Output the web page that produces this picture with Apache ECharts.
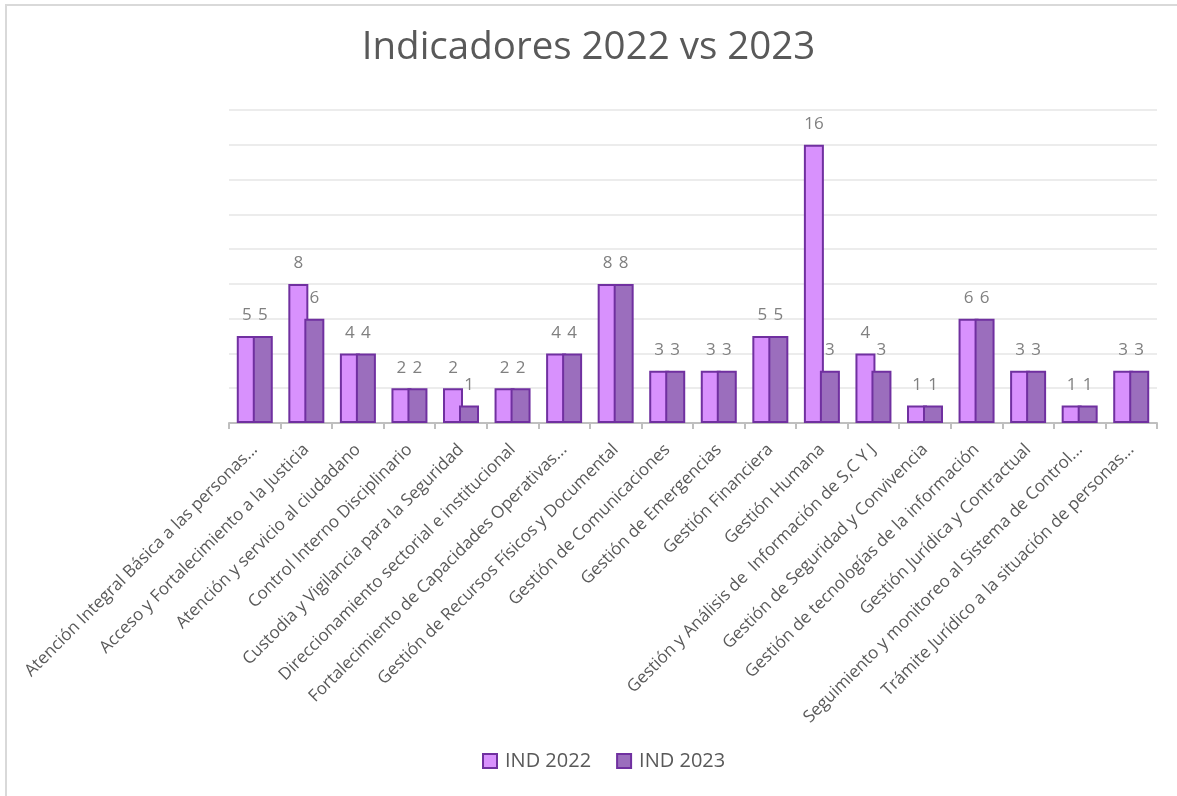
<!DOCTYPE html>
<html>
<head>
<meta charset="utf-8">
<script src="https://cdn.jsdelivr.net/npm/echarts@6/dist/echarts.min.js"></script>
<style>
html,body{margin:0;padding:0;background:#fff;}
#chart{width:1177px;height:796px;}
</style>
</head>
<body>
<div id="chart"></div>
<script>
const categories = [
  "Atención Integral Básica a las personas...",
  "Acceso y Fortalecimiento a la Justicia",
  "Atención y servicio al ciudadano",
  "Control Interno Disciplinario",
  "Custodia y Vigilancia para la Seguridad",
  "Direccionamiento sectorial e institucional",
  "Fortalecimiento de Capacidades Operativas...",
  "Gestión de Recursos Físicos y Documental",
  "Gestión de Comunicaciones",
  "Gestión de Emergencias",
  "Gestión Financiera",
  "Gestión Humana",
  "Gestión y Análisis de  Información de S,C Y J",
  "Gestión de Seguridad y Convivencia",
  "Gestión de tecnologías de la información",
  "Gestión Jurídica y Contractual",
  "Seguimiento y monitoreo al Sistema de Control...",
  "Trámite Jurídico a la situación de personas..."
];
const ind2022 = [5, 8, 4, 2, 2, 2, 4, 8, 3, 3, 5, 16, 4, 1, 6, 3, 1, 3];
const ind2023 = [5, 6, 4, 2, 1, 2, 4, 8, 3, 3, 5, 3, 3, 1, 6, 3, 1, 3];
const seriesNames = ["IND 2022", "IND 2023"];

const chart = echarts.init(document.getElementById('chart'), null, {renderer: 'canvas'});
const font = '"Open Sans", "Noto Sans", sans-serif';
const labelStyle = {show: true, position: 'top', distance: 12, color: '#808080', fontSize: 17, fontFamily: font};
chart.setOption({
  animation: false,
  backgroundColor: '#ffffff',
  textStyle: {fontFamily: font},
  title: {
    text: 'Indicadores 2022 vs 2023',
    left: 'center',
    top: 24,
    textStyle: {fontSize: 38.5, fontWeight: 'normal', color: '#595959', fontFamily: font}
  },
  legend: {
    bottom: 20,
    left: 477,
    itemWidth: 14,
    itemHeight: 14,
    itemGap: 25,
    icon: 'rect',
    textStyle: {fontSize: 20, color: '#595959', fontFamily: font, padding: [0, 0, 0, 3]},
    data: seriesNames
  },
  grid: {left: 229, right: 20, top: 110, bottom: 373},
  xAxis: {
    type: 'category',
    data: categories,
    axisLine: {lineStyle: {color: '#bfbfbf', width: 2}},
    axisTick: {show: true, length: 6, lineStyle: {color: '#bfbfbf', width: 2}},
    axisLabel: {interval: 0, rotate: 45, fontSize: 17, color: '#595959', margin: 24, fontFamily: font}
  },
  yAxis: {
    type: 'value',
    min: 0,
    max: 18,
    interval: 2,
    axisLabel: {show: false},
    axisLine: {show: false},
    axisTick: {show: false},
    splitLine: {lineStyle: {color: '#ececec', width: 2}}
  },
  series: [
    {
      name: seriesNames[0],
      type: 'bar',
      data: ind2022,
      barWidth: 20,
      barGap: '-20%',
      itemStyle: {color: '#d891fd', borderColor: '#7030a0', borderWidth: 2},
      label: labelStyle
    },
    {
      name: seriesNames[1],
      type: 'bar',
      data: ind2023,
      barWidth: 20,
      itemStyle: {color: '#9b6ebd', borderColor: '#7030a0', borderWidth: 2},
      label: labelStyle
    }
  ],
  graphic: [
    {type: 'polyline', silent: true, shape: {points: [[6, 800], [6, 5], [1177, 5]]}, style: {stroke: '#d9d9d9', lineWidth: 2, fill: null}}
  ]
});
</script>
</body>
</html>
